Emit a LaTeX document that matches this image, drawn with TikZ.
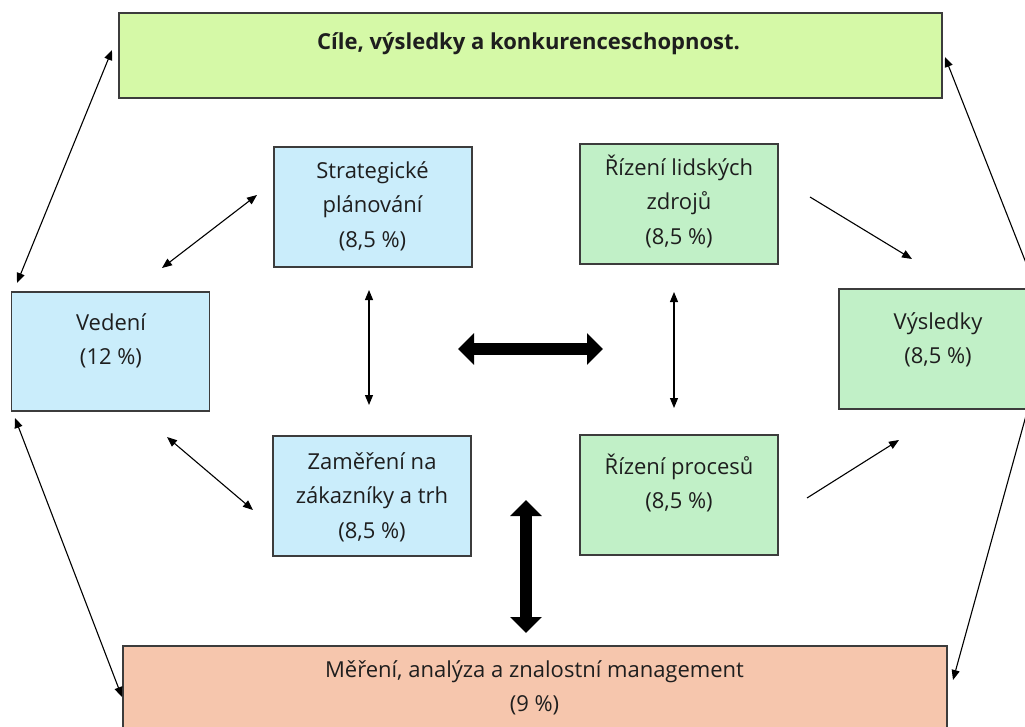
\documentclass[tikz,border=0pt]{standalone}
\usepackage{fontspec}
\setmainfont{Open Sans}
\usetikzlibrary{arrows.meta}
\definecolor{titlegreen}{RGB}{213,249,167}
\definecolor{paleblue}{RGB}{202,237,251}
\definecolor{palegreen}{RGB}{193,240,199}
\definecolor{paleorange}{RGB}{246,198,173}
\definecolor{boxline}{RGB}{60,60,60}
\definecolor{txtcol}{RGB}{30,30,30}
\begin{document}
\begin{tikzpicture}[x=1pt,y=-1pt,
  box/.style={draw=boxline,line width=1.3pt,inner sep=0pt,minimum width=198pt,minimum height=120pt},
  txt/.style={anchor=north,inner sep=0pt,align=center,text=txtcol,font=\fontsize{22}{34.5}\selectfont},
  thin/.style={line width=1.1pt,{Triangle[length=10pt,width=8pt]}-{Triangle[length=10pt,width=8pt]}},
  thinone/.style={line width=1.1pt,-{Triangle[length=10pt,width=8pt]}},
  fat/.style={line width=12pt,{Triangle[length=16pt,width=31pt]}-{Triangle[length=16pt,width=31pt]}}
]
\useasboundingbox (0,0) rectangle (1025,727);
\clip (0,0) rectangle (1025,727);
% boxes
\node[box,fill=titlegreen,minimum width=823pt,minimum height=85pt] (goal) at (530.5,55.5) {};
\node[box,fill=paleblue] (strat) at (373,207) {};
\node[box,fill=palegreen] (hr) at (679,204) {};
\node[box,fill=paleblue,minimum height=119pt] (lead) at (110.5,351.5) {};
\node[box,fill=palegreen] (res) at (938,349) {};
\node[box,fill=paleblue] (cust) at (372,496) {};
\node[box,fill=palegreen] (proc) at (679,495) {};
\node[box,fill=paleorange,minimum width=824pt,minimum height=110pt] (meas) at (535,701) {};
% texts
\node[txt,font=\fontsize{22}{34.5}\selectfont\bfseries] (goalT) at (528.5,27) {\rule{0pt}{22pt}Cíle, výsledky a konkurenceschopnost.};
\node[txt] (stratT) at (372.5,156) {\rule{0pt}{22pt}Strategické\\plánování\\(8,5 \%)};
\node[txt] (hrT) at (679,153) {\rule{0pt}{22pt}Řízení lidských\\zdrojů\\(8,5 \%)};
\node[txt] (leadT) at (111,308) {\rule{0pt}{22pt}Vedení\\(12 \%)};
\node[txt] (resT) at (938,307) {\rule{0pt}{22pt}Výsledky\\(8,5 \%)};
\node[txt] (custT) at (372,447) {\rule{0pt}{22pt}Zaměření na\\zákazníky a trh\\(8,5 \%)};
\node[txt] (procT) at (679,452) {\rule{0pt}{22pt}Řízení procesů\\(8,5 \%)};
\node[txt] (measT) at (534.5,655) {\rule{0pt}{22pt}Měření, analýza a znalostní management\\(9 \%)};
% connector end points
\coordinate (a1s) at (17,283);   \coordinate (a1e) at (112,50);
\coordinate (a2s) at (162,268);  \coordinate (a2e) at (257,195);
\coordinate (a3s) at (369,290);  \coordinate (a3e) at (369,405);
\coordinate (a4s) at (167,437);  \coordinate (a4e) at (253,510);
\coordinate (a5s) at (15,418);   \coordinate (a5e) at (122,697);
\coordinate (a6s) at (458,349);  \coordinate (a6e) at (603,349);
\coordinate (a7s) at (526,500);  \coordinate (a7e) at (526,633);
\coordinate (a8s) at (674,292);  \coordinate (a8e) at (674,408);
\coordinate (a9s) at (810,197);  \coordinate (a9e) at (912,259);
\coordinate (a10s) at (807,498); \coordinate (a10e) at (899,440);
\coordinate (a11s) at (1027,412); \coordinate (a11e) at (953,680);
\coordinate (a12s) at (1028,268); \coordinate (a12e) at (945,57);
% connectors
\draw[thin] (a1s) -- (a1e);
\draw[thin] (a2s) -- (a2e);
\draw[thin] (a3s) -- (a3e);
\draw[thin] (a4s) -- (a4e);
\draw[thin] (a5s) -- (a5e);
\draw[fat] (a6s) -- (a6e);
\draw[fat] (a7s) -- (a7e);
\draw[thin] (a8s) -- (a8e);
\draw[thinone] (a9s) -- (a9e);
\draw[thinone] (a10s) -- (a10e);
\draw[thinone] (a11s) -- (a11e);
\draw[thinone] (a12s) -- (a12e);
\end{tikzpicture}
\end{document}
